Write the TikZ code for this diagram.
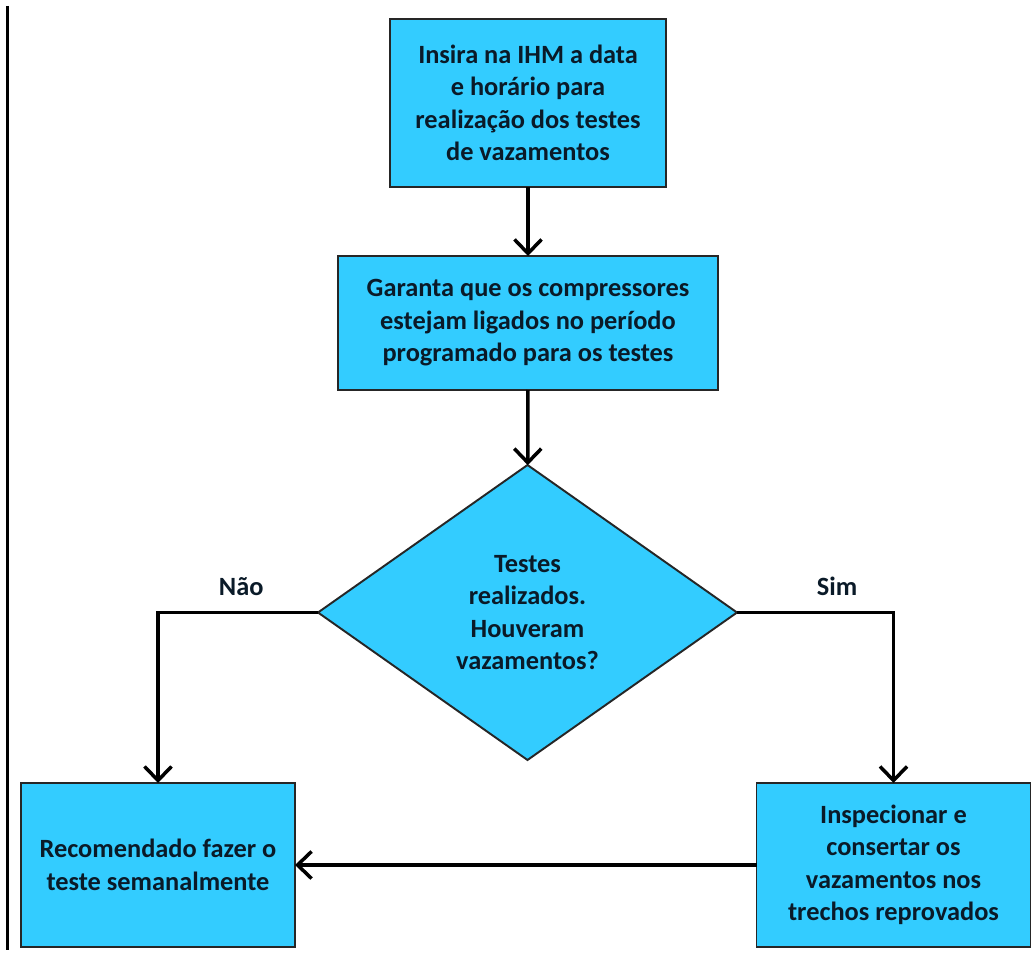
\documentclass[tikz,border=0pt]{standalone}
\usepackage{fontspec}
\setmainfont{Carlito}
\usetikzlibrary{arrows.meta,shapes.geometric}
\definecolor{azul}{HTML}{33CCFF}
\definecolor{texto}{HTML}{0A1A28}
\tikzset{
  caixa/.style={draw=black!85, line width=1.1pt, fill=azul, align=center, inner sep=0pt, outer sep=0pt, text=texto, font=\fontsize{15}{18.5}\selectfont\bfseries},
  rotulo/.style={text=texto, font=\fontsize{15}{18.5}\selectfont\bfseries},
  seta/.style={draw, line width=2pt, -{Straight Barb[length=2.8mm, width=5.4mm, line width=2pt]}},
}
\begin{document}
\begin{tikzpicture}
    \useasboundingbox (0,0) rectangle (20.68,-19.12);
    % margem
    \path[draw, line width=1.4pt](0.15,-0.12)to(0.15,-19.0);
    % caixas
    \node[caixa, minimum width=5.52cm, minimum height=3.36cm](insira)at(10.56,-2.06){Insira na IHM a data\\e horário para\\realização dos testes\\de vazamentos};
    \node[caixa, minimum width=7.6cm, minimum height=2.68cm](garanta)at(10.56,-6.46){Garanta que os compressores\\estejam ligados no período\\programado para os testes};
    \node[caixa, diamond, minimum width=8.38cm, minimum height=5.9cm](testes)at(10.55,-12.25){Testes\\realizados.\\Houveram\\vazamentos?};
    \node[caixa, minimum width=5.48cm, minimum height=3.28cm](recomendado)at(3.16,-17.3){Recomendado fazer o\\teste semanalmente};
    \node[caixa, minimum width=5.48cm, minimum height=3.28cm](inspecionar)at(17.87,-17.3){Inspecionar e\\consertar os\\vazamentos nos\\trechos reprovados};
    % setas
    \path[seta](insira)to(garanta);
    \path[seta](garanta)to(testes);
    \path[seta](testes.west)-|(recomendado.north)node[rotulo, pos=0.24, above=5pt]{Não};
    \path[seta](testes.east)-|(inspecionar.north)node[rotulo, pos=0.32, above=5pt]{Sim};
    \path[seta](inspecionar)to(recomendado);
\end{tikzpicture}
\end{document}
